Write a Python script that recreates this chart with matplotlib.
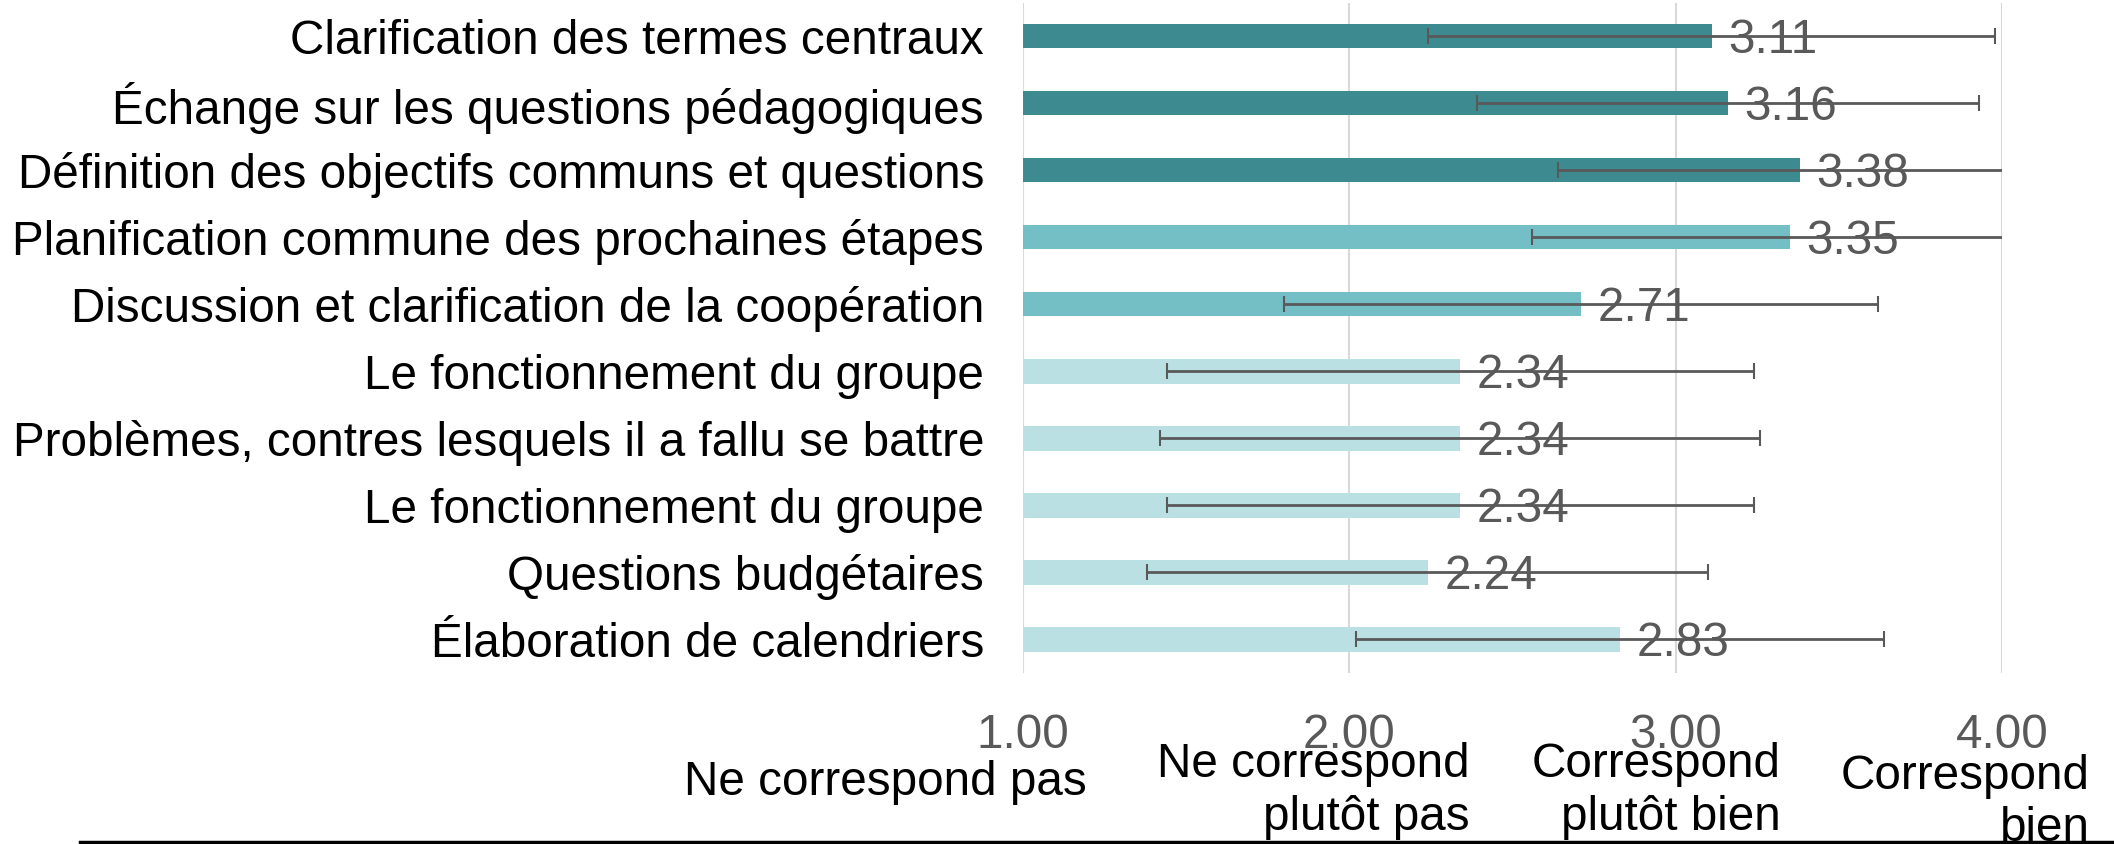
import matplotlib
matplotlib.use("Agg")
import matplotlib.pyplot as plt
from matplotlib.lines import Line2D

plt.rcParams['font.family'] = ['Liberation Sans', 'DejaVu Sans']

# data, top to bottom
categories = [
    "Clarification des termes centraux",
    "Échange sur les questions pédagogiques",
    "Définition des objectifs communs et questions",
    "Planification commune des prochaines étapes",
    "Discussion et clarification de la coopération",
    "Le fonctionnement du groupe",
    "Problèmes, contres lesquels il a fallu se battre",
    "Le fonctionnement du groupe",
    "Questions budgétaires",
    "Élaboration de calendriers",
]
means = [3.11, 3.16, 3.38, 3.35, 2.71, 2.34, 2.34, 2.34, 2.24, 2.83]
sds = [0.87, 0.77, 0.74, 0.79, 0.91, 0.90, 0.92, 0.90, 0.86, 0.81]
groups = [0, 0, 0, 1, 1, 2, 2, 2, 2, 2]
group_colors = ["#3D8B91", "#73BFC5", "#BBE0E3"]

x_ticks = [1, 2, 3, 4]
x_tick_labels = ["1.00", "2.00", "3.00", "4.00"]
scale_labels = ["Ne correspond pas", "Ne correspond\nplutôt pas",
                "Correspond\nplutôt bien", "Correspond\nbien"]

gray = "#595959"
fs = 34.3

fig = plt.figure(figsize=(21.14, 8.44), dpi=100)
ax = fig.add_axes([0.4839, 0.2026, 0.4631, 0.794])

ypos = list(range(len(categories)))
colors = [group_colors[g] for g in groups]
ax.barh(ypos, means, height=0.36, color=colors, zorder=2)
ax.errorbar(means, ypos, xerr=sds, fmt='none', ecolor=gray, elinewidth=2,
            capsize=5.5, capthick=1.5, zorder=3)

for y, v in zip(ypos, means):
    ax.annotate(f"{v:.2f}", (v, y), xytext=(12, -3), textcoords='offset points',
                ha='left', va='center', fontsize=fs, color=gray, zorder=4)

ax.set_xlim(1, 4)
ax.set_ylim(len(categories) - 0.5, -0.5)
ax.set_xticks(x_ticks)
ax.set_xticklabels(x_tick_labels)
ax.set_yticks(ypos)
ax.set_yticklabels(categories)
ax.tick_params(axis='y', length=0, pad=28, labelsize=fs, labelcolor='black')
ax.tick_params(axis='x', length=0, pad=29, labelsize=fs, labelcolor=gray)
ax.grid(axis='x', color="#D9D9D9", linewidth=1.5, zorder=0)
ax.set_axisbelow(True)
for s in ax.spines.values():
    s.set_visible(False)

# scale descriptions under the ticks (baseline of last line)
right_edges = [0.514, 0.695, 0.8425, 0.9886]
y_base = [0.058, 0.0166, 0.0166, 0.003]
for lab, xr, yb in zip(scale_labels, right_edges, y_base):
    fig.text(xr, yb, lab, ha='right', va='baseline', multialignment='right',
             fontsize=fs, color='black', linespacing=1.22, zorder=3)

fig.add_artist(Line2D([0.038, 1.0], [0.002, 0.002], color='black', lw=2.5,
                      transform=fig.transFigure, zorder=5))

fig.savefig("out.png", dpi=100)
